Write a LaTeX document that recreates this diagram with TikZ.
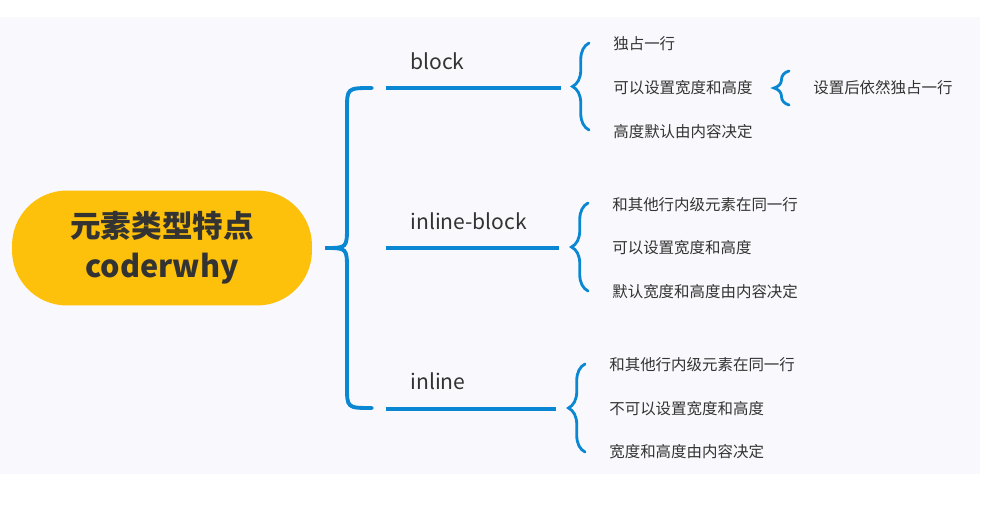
\documentclass[tikz,border=0pt]{standalone}
\usepackage{fontspec}
\setmainfont{Noto Sans CJK SC}
\usetikzlibrary{positioning,decorations.pathreplacing}
\definecolor{pillyellow}{HTML}{FDC00B}
\definecolor{mapblue}{HTML}{0A87D2}
\definecolor{inkgray}{HTML}{333333}
\definecolor{panelbg}{HTML}{F9F9FD}

\begin{document}
\begin{tikzpicture}[
  x=0.02cm, y=-0.02cm,
  root/.style={fill=pillyellow, rounded corners=1.1cm, minimum width=6cm, minimum height=2.3cm,
    align=center, text=inkgray, font=\bfseries\fontsize{17.4}{22.7}\selectfont},
  kind/.style={anchor=west, inner sep=0pt, text=inkgray, font=\fontsize{12}{14}\selectfont},
  item/.style={anchor=west, inner sep=0pt, text=inkgray, font=\fontsize{8.8}{10}\selectfont},
  branch/.style={draw=mapblue, line width=2.6pt},
  bigcurl/.style={draw=mapblue, line width=2.2pt, line cap=round},
  curl/.style={draw=mapblue, line width=1.6pt, line cap=round, decorate,
    decoration={brace, amplitude=0.33cm}}
]

  \useasboundingbox (0,0) rectangle (1000,518);
  \fill[panelbg] (0,17) rectangle (980,474);

  % Root
  \node[root] (root) at (162,248) {元素类型特点\\coderwhy};

  % Big brace
  \draw[bigcurl] (372,88) .. controls (347,88) .. (347,110) -- (347,226)
    .. controls (347,248) .. (325,248) .. controls (347,248) .. (347,270)
    -- (347,386) .. controls (347,408) .. (372,408);

  % Kinds
  \node[kind] (block) at (410,61) {block};
  \node[kind] (iblock) at (410,221) {inline-block};
  \node[kind] (inline) at (410,381) {inline};

  \coordinate (blockL) at (386,88);  \coordinate (blockR) at (561,88);
  \coordinate (iblockL) at (386,248); \coordinate (iblockR) at (559,248);
  \coordinate (inlineL) at (386,409); \coordinate (inlineR) at (556,409);
  \draw[branch] (blockL) -- (blockR);
  \draw[branch] (iblockL) -- (iblockR);
  \draw[branch] (inlineL) -- (inlineR);

  % block
  \draw[curl] (589,130) -- (589,43);
  \node[item] (b1) at (613,44) {独占一行};
  \node[item] (b2) at (613,88) {可以设置宽度和高度};
  \node[item] (b3) at (613,132) {高度默认由内容决定};
  \draw[curl, decoration={amplitude=0.3cm}] (789,105) -- (789,71);
  \node[item] (note) at (813,88) {设置后依然独占一行};

  % inline-block
  \draw[curl] (588,291) -- (588,203);
  \node[item] (ib1) at (612,205) {和其他行内级元素在同一行};
  \node[item] (ib2) at (612,248) {可以设置宽度和高度};
  \node[item] (ib3) at (612,292) {默认宽度和高度由内容决定};

  % inline
  \draw[curl] (585,452) -- (585,364);
  \node[item] (in1) at (609,365) {和其他行内级元素在同一行};
  \node[item] (in2) at (609,409) {不可以设置宽度和高度};
  \node[item] (in3) at (609,452) {宽度和高度由内容决定};

\end{tikzpicture}
\end{document}
